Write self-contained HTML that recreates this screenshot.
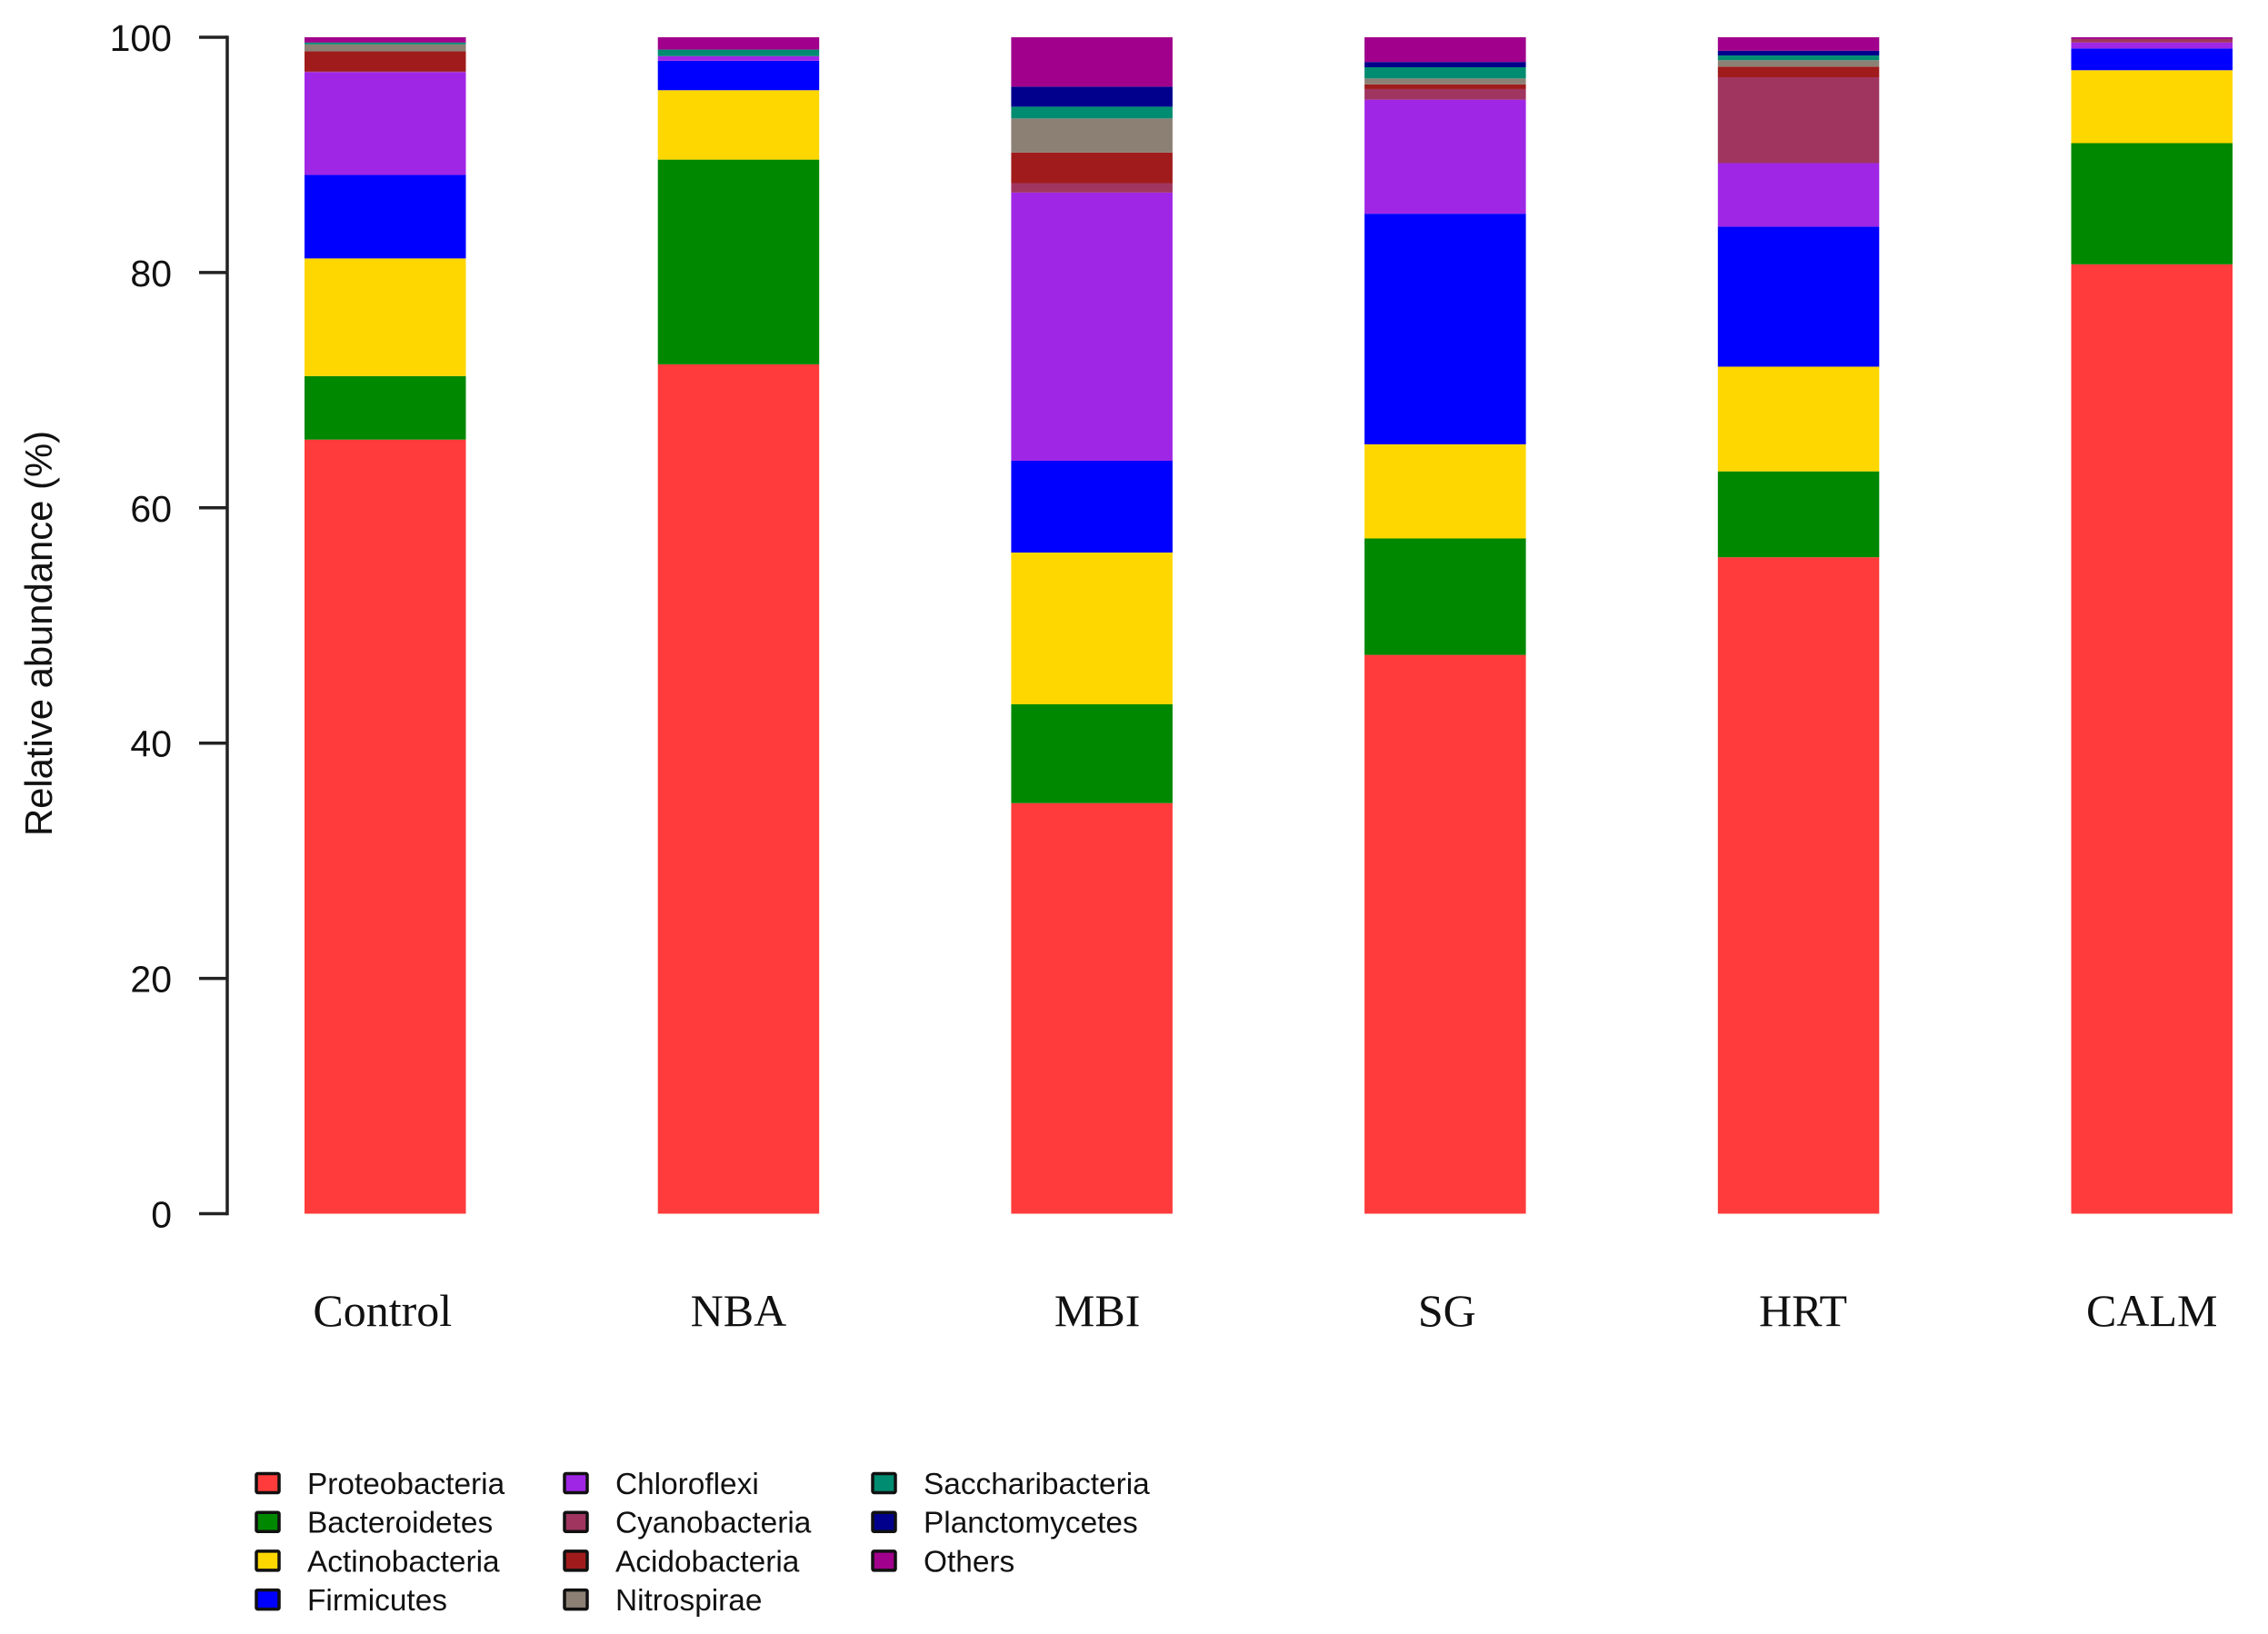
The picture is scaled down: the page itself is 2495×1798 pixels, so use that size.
<!DOCTYPE html>
<html lang="en">
<head>
<meta charset="utf-8">
<title>Relative abundance by treatment</title>
<style>
html,body{margin:0;padding:0;background:#fff;}
svg{display:block;}
text{fill:#111;}
.sans{font-family:"Liberation Sans",Arial,sans-serif;}
.serif{font-family:"Liberation Serif","Times New Roman",serif;}
</style>
</head>
<body>
<svg id="chart" xmlns="http://www.w3.org/2000/svg" width="2495" height="1798" viewBox="0 0 2495 1798">
  <rect width="2495" height="1798" fill="#ffffff"/>
  <text class="sans" font-size="41.8" text-anchor="middle" transform="translate(57,697) rotate(-90)">Relative abundance (%)</text>
</svg>
<script>
const categories = ["Control", "NBA", "MBI", "SG", "HRT", "CALM"];
const yTicks = [0, 20, 40, 60, 80, 100];
const seriesNames = ["Proteobacteria", "Bacteroidetes", "Actinobacteria", "Firmicutes", "Chloroflexi", "Cyanobacteria", "Acidobacteria", "Nitrospirae", "Saccharibacteria", "Planctomycetes", "Others"];
const seriesColors = ["#FF3B3B", "#008800", "#FFD700", "#0000FF", "#A026E6", "#A03560", "#A01C1C", "#8C8074", "#008C70", "#00008C", "#A0008C"];
const proteobacteria = [65.8, 72.2, 34.9, 47.5, 55.8, 80.7];
const bacteroidetes = [5.4, 17.4, 8.4, 9.9, 7.3, 10.3];
const actinobacteria = [10.0, 5.9, 12.9, 8.0, 8.9, 6.2];
const firmicutes = [7.1, 2.5, 7.8, 19.6, 11.9, 1.85];
const chloroflexi = [8.74, 0.4, 22.8, 9.7, 5.4, 0.5];
const cyanobacteria = [0.06, 0, 0.8, 0.9, 7.3, 0.3];
const acidobacteria = [1.7, 0, 2.6, 0.4, 0.9, 0];
const nitrospirae = [0.6, 0, 2.9, 0.5, 0.55, 0];
const saccharibacteria = [0.15, 0.55, 1.0, 0.95, 0.4, 0];
const planctomycetes = [0, 0, 1.7, 0.45, 0.4, 0];
const others = [0.45, 1.05, 4.2, 2.1, 1.15, 0.15];
const seriesValues = [proteobacteria, bacteroidetes, actinobacteria, firmicutes, chloroflexi, cyanobacteria, acidobacteria, nitrospirae, saccharibacteria, planctomycetes, others];

const svg = document.getElementById('chart');
const NS = 'http://www.w3.org/2000/svg';
function yScale(v) { return 1335.5 - v * 12.945; }
function xBandLeft(i) { return 335 + i * 388.7; }
const barWidth = 177.5;
const labelNudge = [-3, 0, 6, 2, 5, 0];
function make(tag, attrs) {
  const el = document.createElementNS(NS, tag);
  for (const k in attrs) el.setAttribute(k, attrs[k]);
  return el;
}
function slug(s) { return s.toLowerCase().replace(/[^a-z0-9]+/g, '-'); }

// bars
categories.forEach(function (cat, i) {
  const group = make('g', {});
  
  
  let cum = 0;
  seriesValues.forEach(function (vals, s) {
    const v = vals[i];
    if (v > 0) {
      const top = yScale(cum + v);
      const bottom = yScale(cum);
      const r = make('rect', { x: xBandLeft(i), y: top, width: barWidth, height: bottom - top, fill: seriesColors[s] });
      
      
      group.appendChild(r);
    }
    cum += v;
  });
  svg.appendChild(group);
});

// y axis
const axisGroup = make('g', {});


const axisLine = make('line', { x1: 250, x2: 250, y1: yScale(yTicks[yTicks.length - 1]) - 1.75, y2: yScale(yTicks[0]) + 1.75, stroke: '#222', 'stroke-width': 3.5 });


axisGroup.appendChild(axisLine);
yTicks.forEach(function (t) {
  const tick = make('line', { x1: 219, x2: 250, y1: yScale(t), y2: yScale(t), stroke: '#222', 'stroke-width': 3.5 });
  
  
  axisGroup.appendChild(tick);
  const label = make('text', { x: 189, y: yScale(t) + 15, 'text-anchor': 'end', 'font-size': 41, class: 'sans' });
  
  
  label.textContent = t;
  axisGroup.appendChild(label);
});
svg.appendChild(axisGroup);

// x labels
categories.forEach(function (cat, i) {
  const label = make('text', { x: xBandLeft(i) + barWidth / 2 + labelNudge[i], y: 1459, 'text-anchor': 'middle', 'font-size': 50, class: 'serif' });
  
  
  label.textContent = cat;
  svg.appendChild(label);
});

// legend
const legend = make('g', {});


seriesNames.forEach(function (name, s) {
  const col = Math.floor(s / 4);
  const row = s % 4;
  const swatchX = 282 + col * 339;
  const textX = 338 + col * 339;
  const cy = 1632 + row * 42.7;
  const entry = make('g', {});
  
  
  const sw = make('rect', { x: swatchX, y: cy - 10.5, width: 25, height: 21, fill: seriesColors[s], stroke: '#111', 'stroke-width': 3.5, rx: 1.5 });
  
  
  entry.appendChild(sw);
  const txt = make('text', { x: textX, y: cy + 12, 'font-size': 33.4, class: 'sans' });
  
  
  txt.textContent = name;
  entry.appendChild(txt);
  legend.appendChild(entry);
});
svg.appendChild(legend);
</script>
</body>
</html>
